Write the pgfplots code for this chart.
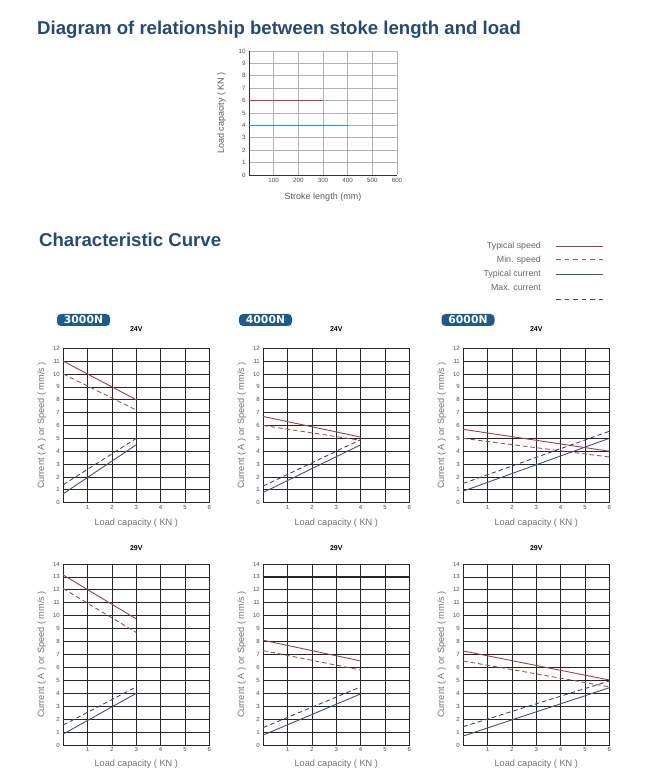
\documentclass[border=0pt]{standalone}
\usepackage{fontspec}
\setmainfont{Liberation Sans}
\newfontfamily\dejavu{DejaVu Sans}
\usepackage{pgfplots}
\pgfplotsset{compat=1.18}
\definecolor{titleblue}{HTML}{254A74}
\definecolor{badgeblue}{HTML}{1E5A8A}
\definecolor{spd}{HTML}{9A3F4C}
\definecolor{spdd}{HTML}{A0504E}
\definecolor{cur}{HTML}{44507C}
\definecolor{curd}{HTML}{3C4A6C}
\definecolor{lnred}{HTML}{D0306A}
\definecolor{lncyan}{HTML}{1E9CC8}
\pgfplotsset{
  /pgf/number format/assume math mode=true,
  cc/.style={
    scale only axis, width=146pt,
    xmin=0, xmax=6, xtick={1,...,6}, ymin=0,
    grid=major, grid style={black!85, line width=0.75pt},
    axis line style={black!85, line width=0.75pt},
    major tick style={draw=none},
    ticklabel style={font=\fontsize{6}{7}\selectfont, text=black!70},
    xticklabel style={yshift=1pt},
    xlabel={Load capacity ( KN )},
    ylabel={Current ( A ) or Speed ( mm/s )},
    label style={font=\fontsize{9.2}{10}\selectfont, text=black!55},
    title style={font=\fontsize{7}{8}\selectfont\bfseries},
    clip=false,
  },
  cctop/.style={cc, height=154.4pt, ymax=12, ytick={0,...,12},
    xlabel style={at={(axis description cs:0.5,-0.132)}, anchor=center},
    ylabel style={at={(axis description cs:-0.148,0.5)}, anchor=center},
    title style={at={(axis description cs:0.5,1.085)}, anchor=center},
    title={24V}},
  ccbot/.style={cc, height=181pt, ymax=14, ytick={0,...,14},
    xlabel style={at={(axis description cs:0.5,-0.105)}, anchor=center},
    ylabel style={at={(axis description cs:-0.148,0.5)}, anchor=center},
    title style={at={(axis description cs:0.5,1.054)}, anchor=center},
    title={29V}},
  sp/.style={spd, line width=0.9pt},
  spdash/.style={spdd, line width=0.9pt, dash pattern=on 4.5pt off 3pt},
  cu/.style={cur, line width=0.9pt},
  cudash/.style={curd, line width=0.9pt, dash pattern=on 4.5pt off 3pt},
}
\begin{document}
\begin{tikzpicture}[x=1pt,y=1pt]
\useasboundingbox (0,0) rectangle (648,777);

% Titles
\node[anchor=base west, inner sep=0, text=titleblue, font=\fontsize{18.6}{20}\selectfont\bfseries] at (37,742.7) {Diagram of relationship between stoke length and load};
\node[anchor=base west, inner sep=0, text=titleblue, font=\fontsize{18.6}{20}\selectfont\bfseries] at (39,530.5) {Characteristic Curve};

% Top chart
\begin{axis}[
  at={(249pt,602pt)}, anchor=south west, scale only axis,
  width=148pt, height=124pt,
  xmin=0, xmax=600, xtick={100,200,...,600},
  ymin=0, ymax=10, ytick={0,...,10},
  axis lines*=left,
  axis line style={-, black!80, line width=0.8pt},
  grid=major, grid style={black!30, line width=0.6pt},
  major tick style={draw=none},
  ticklabel style={font=\fontsize{6.2}{7}\selectfont, text=black!70},
  xlabel={Stroke length (mm)}, ylabel={Load capacity ( KN )},
  label style={font=\fontsize{9}{10}\selectfont, text=black!65},
  xlabel style={at={(axis description cs:0.5,-0.175)}, anchor=center},
  ylabel style={at={(axis description cs:-0.185,0.5)}, anchor=center},
  clip=false,
]
\addplot[color=lncyan, line width=1.4pt] table {
x y
0 4
400 4
};
\addplot[color=lnred, line width=1.4pt] table {
x y
0 6
300 6
};
\end{axis}

% Legend
\begin{scope}[font=\fontsize{8.8}{10}\selectfont]
\node[anchor=east, inner sep=0, text=black!60] at (541,531) {Typical speed};
\node[anchor=east, inner sep=0, text=black!60] at (541,517) {Min. speed};
\node[anchor=east, inner sep=0, text=black!60] at (541,503) {Typical current};
\node[anchor=east, inner sep=0, text=black!60] at (541,489) {Max. current};
\draw[spd, line width=0.9pt] (556,531) -- (603,531);
\draw[spdd, line width=0.9pt, dash pattern=on 4.5pt off 4pt] (556,517.5) -- (603,517.5);
\draw[cur, line width=0.9pt] (556,503) -- (603,503);
\draw[curd, line width=0.9pt, dash pattern=on 4.5pt off 4pt] (556,478) -- (603,478);
\end{scope}

% Badges
\foreach \cx/\lab in {83.5/3000N, 265.5/4000N, 468/6000N}{
  \node[fill=badgeblue, rounded corners=4pt, minimum width=53pt, minimum height=12pt, inner sep=0, text=white, font=\dejavu\fontsize{10.8}{11}\selectfont\bfseries] at (\cx,457) {\lab};
}

% 3000N 24V
\begin{axis}[cctop, at={(63.3pt,274.3pt)}, anchor=south west]
\addplot[sp] coordinates {(0,11.0) (3,8.0)};
\addplot[spdash] coordinates {(0,10.0) (3,7.2)};
\addplot[cu] coordinates {(0,0.7) (3,4.5)};
\addplot[cudash] coordinates {(0,1.4) (3,5.0)};
\end{axis}

% 4000N 24V
\begin{axis}[cctop, at={(263.3pt,274.3pt)}, anchor=south west]
\addplot[sp] coordinates {(0,6.7) (4,5.1)};
\addplot[spdash] coordinates {(0,6.0) (4,4.85)};
\addplot[cu] coordinates {(0,0.8) (4,4.5)};
\addplot[cudash] coordinates {(0,1.3) (4,4.9)};
\end{axis}

% 6000N 24V
\begin{axis}[cctop, at={(463.3pt,274.3pt)}, anchor=south west]
\addplot[sp] coordinates {(0,5.7) (6,4.0)};
\addplot[spdash] coordinates {(0,5.0) (6,3.55)};
\addplot[cu] coordinates {(0,0.9) (6,5.0)};
\addplot[cudash] coordinates {(0,1.5) (6,5.55)};
\end{axis}

% 3000N 29V
\begin{axis}[ccbot, at={(63.3pt,32pt)}, anchor=south west]
\addplot[sp] coordinates {(0,13.15) (3,9.75)};
\addplot[spdash] coordinates {(0,12.1) (3,8.7)};
\addplot[cu] coordinates {(0,0.85) (3,4.0)};
\addplot[cudash] coordinates {(0,1.55) (3,4.5)};
\end{axis}

% 4000N 29V
\begin{axis}[ccbot, at={(263.3pt,32pt)}, anchor=south west]
\addplot[black!85, line width=1.4pt] coordinates {(0,13) (6,13)};
\addplot[sp] coordinates {(0,8.1) (4,6.5)};
\addplot[spdash] coordinates {(0,7.3) (4,5.8)};
\addplot[cu] coordinates {(0,0.77) (4,3.95)};
\addplot[cudash] coordinates {(0,1.35) (4,4.5)};
\end{axis}

% 6000N 29V
\begin{axis}[ccbot, at={(463.3pt,32pt)}, anchor=south west]
\addplot[sp] coordinates {(0,7.27) (6,5.03)};
\addplot[spdash] coordinates {(0,6.5) (6,4.5)};
\addplot[cu] coordinates {(0,0.7) (6,4.43)};
\addplot[cudash] coordinates {(0,1.42) (6,4.95)};
\end{axis}
\end{tikzpicture}
\end{document}
